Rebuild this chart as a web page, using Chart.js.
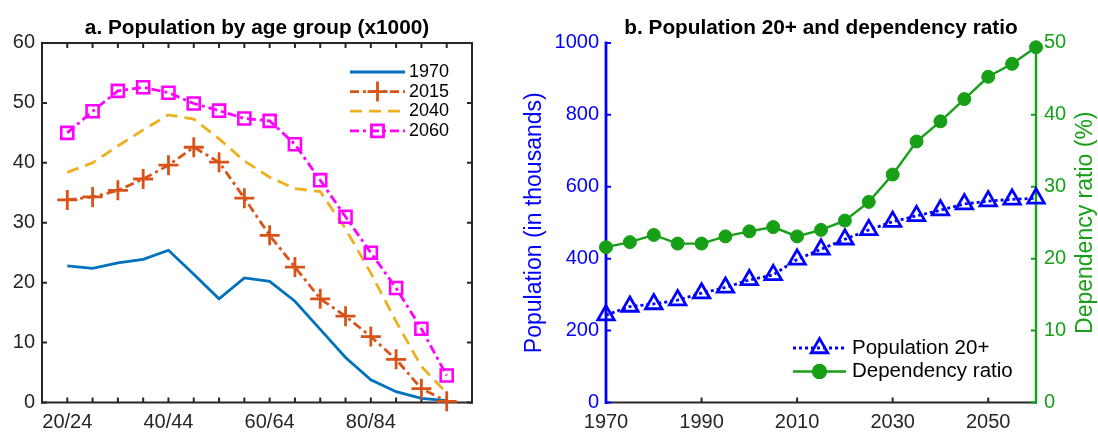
<!DOCTYPE html>
<html lang="en">
<head>
<meta charset="UTF-8">
<title>Population by age group and dependency ratio</title>
<script src="https://cdn.jsdelivr.net/npm/chart.js@4.4.1/dist/chart.umd.min.js"></script>
<style>
  html, body { margin: 0; padding: 0; background: #fff; overflow: hidden; }
  #wrap { position: relative; width: 1098px; height: 432px; overflow: hidden; }
  .panel { position: absolute; top: 0; }
  #left { left: 0; }
  #right { left: 506px; }
</style>
</head>
<body>
<div id="wrap">
  <div class="panel" id="left"><canvas id="ageChart" width="514" height="432"></canvas></div>
  <div class="panel" id="right"><canvas id="ratioChart" width="630" height="432"></canvas></div>
</div>
<script>
// panel a: population by age group (x1000)
const ageGroups = ['20/24', '25/29', '30/34', '35/39', '40/44', '45/49', '50/54', '55/59',
                   '60/64', '65/69', '70/74', '75/79', '80/84', '85/89', '90/94', '95/99'];
const pop1970 = [22.8, 22.4, 23.3, 23.9, 25.4, 21.4, 17.3, 20.8, 20.2, 16.9, 12.2, 7.5, 3.8, 1.8, 0.7, 0.3];
const pop2015 = [33.8, 34.3, 35.4, 37.3, 39.6, 42.6, 40.1, 34.1, 27.9, 22.6, 17.3, 14.4, 11.0, 7.2, 2.3, 0.2];
const pop2040 = [38.4, 40.0, 42.8, 45.5, 48.0, 47.3, 44.0, 40.3, 37.6, 35.7, 35.2, 29.0, 21.6, 13.5, 6.0, 1.6];
const pop2060 = [45.0, 48.6, 52.0, 52.6, 51.7, 49.9, 48.7, 47.4, 47.0, 43.1, 37.1, 31.0, 25.0, 19.1, 12.3, 4.5];
const ageTicks = [0, 10, 20, 30, 40, 50, 60];

// panel b: population 20+ and dependency ratio
const years = [1970, 1975, 1980, 1985, 1990, 1995, 2000, 2005, 2010, 2015,
               2020, 2025, 2030, 2035, 2040, 2045, 2050, 2055, 2060];
const pop20plus = [243, 267, 274, 285, 304, 320, 341, 355, 398, 426,
                   454, 480, 503, 519, 535, 552, 560, 565, 568];
const depRatio = [21.6, 22.3, 23.3, 22.1, 22.1, 23.1, 23.8, 24.4, 23.1, 24.0,
                  25.3, 27.9, 31.7, 36.3, 39.1, 42.2, 45.3, 47.1, 49.4];
const yearTicks = [1970, 1990, 2010, 2030, 2050];
const popTicks = [0, 200, 400, 600, 800, 1000];
const ratioTicks = [0, 10, 20, 30, 40, 50];

const ink = '#262626';
const green = '#17A017';
const blue = '#0000FF';

Chart.defaults.font.family = "'Liberation Sans', Arial, Helvetica, sans-serif";
Chart.defaults.color = ink;

// box lines with inward tick marks (matlab style), drawn under the data
const frame = {
  id: 'frame',
  beforeDatasetsDraw(chart, args, opts) {
    const { ctx, chartArea: a } = chart;
    const len = opts.tickLength;
    ctx.save();
    ctx.setLineDash([]);
    opts.sides.forEach(side => {
      const scale = chart.scales[side.scale];
      const horiz = side.edge === 'bottom' || side.edge === 'top';
      ctx.strokeStyle = side.color;
      ctx.lineWidth = side.width;
      ctx.lineCap = 'square';
      ctx.beginPath();
      if (horiz) {
        const y = side.edge === 'bottom' ? a.bottom : a.top;
        ctx.moveTo(a.left, y); ctx.lineTo(a.right, y);
      } else {
        const x = side.edge === 'left' ? a.left : a.right;
        ctx.moveTo(x, a.top); ctx.lineTo(x, a.bottom);
      }
      ctx.stroke();
      ctx.lineCap = 'butt';
      ctx.lineWidth = opts.tickWidth;
      ctx.beginPath();
      scale.ticks.forEach(t => {
        const p = scale.getPixelForValue(t.value);
        if (horiz) {
          const y = side.edge === 'bottom' ? a.bottom : a.top;
          const dir = side.edge === 'bottom' ? -1 : 1;
          ctx.moveTo(p, y); ctx.lineTo(p, y + dir * len);
        } else {
          const x = side.edge === 'left' ? a.left : a.right;
          const dir = side.edge === 'left' ? 1 : -1;
          ctx.moveTo(x, p); ctx.lineTo(x + dir * len, p);
        }
      });
      ctx.stroke();
    });
    ctx.restore();
  }
};

// legend with line sample + marker, like the matlab one
const lineLegend = {
  id: 'lineLegend',
  afterDatasetsDraw(chart, args, opts) {
    const { ctx } = chart;
    ctx.save();
    chart.data.datasets.forEach((ds, i) => {
      const y = opts.y + i * opts.rowGap;
      ctx.strokeStyle = ds.borderColor;
      ctx.lineWidth = ds.borderWidth;
      ctx.setLineDash(ds.borderDash || []);
      ctx.beginPath();
      ctx.moveTo(opts.x, y);
      ctx.lineTo(opts.x + opts.lineLength, y);
      ctx.stroke();
      if (ds.pointRadius > 0) {
        ctx.setLineDash([]);
        ctx.strokeStyle = ds.pointBorderColor;
        ctx.fillStyle = ds.pointBackgroundColor;
        Chart.helpers.drawPoint(ctx, {
          pointStyle: ds.pointStyle, radius: ds.pointRadius,
          rotation: 0, borderWidth: ds.pointBorderWidth
        }, opts.x + opts.lineLength / 2, y);
      }
      ctx.fillStyle = '#000';
      ctx.font = opts.fontSize + 'px ' + Chart.defaults.font.family;
      ctx.textBaseline = 'middle';
      ctx.textAlign = 'left';
      ctx.fillText(ds.label, opts.x + opts.lineLength + opts.textGap, y);
    });
    ctx.restore();
  }
};

// right axis title reads bottom to top like the left one
const sideTitle = {
  id: 'sideTitle',
  afterDraw(chart, args, opts) {
    if (!opts.text) return;
    const { ctx, chartArea: a } = chart;
    ctx.save();
    ctx.translate(a.right + opts.offset, (a.top + a.bottom) / 2);
    ctx.rotate(-Math.PI / 2);
    ctx.fillStyle = opts.color;
    ctx.font = opts.fontSize + 'px ' + Chart.defaults.font.family;
    ctx.textAlign = 'center';
    ctx.textBaseline = 'middle';
    ctx.fillText(opts.text, 0, 0);
    ctx.restore();
  }
};

const titleOpts = text => ({
  display: true, text: text, color: '#000',
  font: { size: 20.8, weight: 'bold' },
  padding: { top: 16, bottom: 2 }
});

const toXY = (xs, ys) => ys.map((v, i) => ({ x: xs[i], y: v }));
const idx = ageGroups.map((g, i) => i);

new Chart(document.getElementById('ageChart'), {
  type: 'line',
  data: {
    datasets: [
      { label: '1970', data: toXY(idx, pop1970), borderColor: '#0072BD', borderWidth: 2.8,
        pointRadius: 0, order: 4 },
      { label: '2015', data: toXY(idx, pop2015), borderColor: '#D95319', borderWidth: 2.8,
        borderDash: [9, 4, 3, 4], pointStyle: 'cross', pointRadius: 10,
        pointBorderColor: '#D95319', pointBackgroundColor: 'rgba(0,0,0,0)', pointBorderWidth: 2.8, order: 3 },
      { label: '2040', data: toXY(idx, pop2040), borderColor: '#EDB120', borderWidth: 2.8,
        borderDash: [12, 7], pointRadius: 0, order: 2 },
      { label: '2060', data: toXY(idx, pop2060), borderColor: '#FF00FF', borderWidth: 2.8,
        borderDash: [9, 4, 3, 4], pointStyle: 'rect', pointRadius: 8.5,
        pointBorderColor: '#FF00FF', pointBackgroundColor: 'rgba(0,0,0,0)', pointBorderWidth: 2.6, order: 1 }
    ]
  },
  options: {
    responsive: false,
    animation: false,
    datasets: { line: { clip: false, tension: 0, fill: false } },
    scales: {
      x: {
        type: 'linear', min: -1, max: ageGroups.length,
        afterBuildTicks: s => { s.ticks = idx.map(i => ({ value: i })); },
        afterFit: s => { s.height = 29.5; },
        grid: { display: false, drawTicks: false },
        border: { display: false },
        ticks: { autoSkip: false, maxRotation: 0, padding: 8, color: ink, font: { size: 20 },
                 callback: v => (v % 4 === 0 ? ageGroups[v] : '') }
      },
      y: {
        min: 0, max: 60,
        afterBuildTicks: s => { s.ticks = ageTicks.map(v => ({ value: v })); },
        afterFit: s => { s.width = 42; },
        grid: { display: false, drawTicks: false },
        border: { display: false },
        ticks: { padding: 7, color: ink, font: { size: 20 } }
      },
      // mirror axis on the right: tick marks only
      yMirror: {
        position: 'right', min: 0, max: 60,
        afterBuildTicks: s => { s.ticks = ageTicks.map(v => ({ value: v })); },
        afterFit: s => { s.width = 42; },
        grid: { display: false, drawTicks: false },
        border: { display: false },
        ticks: { display: false }
      }
    },
    plugins: {
      legend: { display: false },
      tooltip: { enabled: false },
      title: titleOpts('a. Population by age group (x1000)'),
      frame: {
        tickLength: 5, tickWidth: 2,
        sides: [
          { scale: 'x', edge: 'bottom', color: ink, width: 2 },
          { scale: 'x', edge: 'top', color: ink, width: 2 },
          { scale: 'y', edge: 'left', color: ink, width: 2 },
          { scale: 'yMirror', edge: 'right', color: ink, width: 2 }
        ]
      },
      lineLegend: { x: 350, y: 72, rowGap: 19.6, lineLength: 55, textGap: 4, fontSize: 18 }
    }
  },
  plugins: [frame, lineLegend]
});

new Chart(document.getElementById('ratioChart'), {
  type: 'line',
  data: {
    datasets: [
      { label: 'Population 20+', data: toXY(years, pop20plus), yAxisID: 'y',
        borderColor: blue, borderWidth: 2.8, borderDash: [3, 3],
        pointStyle: 'triangle', pointRadius: 9.5, pointBorderColor: blue,
        pointBackgroundColor: 'rgba(0,0,0,0)', pointBorderWidth: 2.8, order: 2 },
      { label: 'Dependency ratio', data: toXY(years, depRatio), yAxisID: 'y2',
        borderColor: green, borderWidth: 2.4,
        pointStyle: 'circle', pointRadius: 6.5, pointBorderColor: green,
        pointBackgroundColor: green, pointBorderWidth: 1, order: 1 }
    ]
  },
  options: {
    responsive: false,
    animation: false,
    datasets: { line: { clip: false, tension: 0, fill: false } },
    scales: {
      x: {
        type: 'linear', min: years[0], max: years[years.length - 1],
        afterBuildTicks: s => { s.ticks = yearTicks.map(v => ({ value: v })); },
        afterFit: s => { s.height = 29.5; },
        grid: { display: false, drawTicks: false },
        border: { display: false },
        ticks: { autoSkip: false, maxRotation: 0, padding: 8, color: ink, font: { size: 20 },
                 callback: v => String(v) }
      },
      y: {
        position: 'left', min: 0, max: 1000,
        afterBuildTicks: s => { s.ticks = popTicks.map(v => ({ value: v })); },
        afterFit: s => { s.width = 100; },
        grid: { display: false, drawTicks: false },
        border: { display: false },
        ticks: { padding: 7, color: blue, font: { size: 20 }, callback: v => String(v) },
        title: { display: true, text: 'Population (in thousands)', color: blue,
                 font: { size: 23 }, padding: { top: 15, bottom: 0 } }
      },
      y2: {
        position: 'right', min: 0, max: 50,
        afterBuildTicks: s => { s.ticks = ratioTicks.map(v => ({ value: v })); },
        afterFit: s => { s.width = 100; },
        grid: { display: false, drawTicks: false },
        border: { display: false },
        ticks: { padding: 8, color: green, font: { size: 20 }, callback: v => String(v) }
      }
    },
    plugins: {
      legend: { display: false },
      tooltip: { enabled: false },
      title: titleOpts('b. Population 20+ and dependency ratio'),
      frame: {
        tickLength: 5, tickWidth: 2,
        sides: [
          { scale: 'x', edge: 'bottom', color: ink, width: 2 },
          { scale: 'y', edge: 'left', color: blue, width: 2.8 },
          { scale: 'y2', edge: 'right', color: green, width: 2.4 }
        ]
      },
      lineLegend: { x: 287, y: 348, rowGap: 23.5, lineLength: 53, textGap: 6, fontSize: 20.5 },
      sideTitle: { text: 'Dependency ratio (%)', color: green, fontSize: 23, offset: 50 }
    }
  },
  plugins: [frame, lineLegend, sideTitle]
});
</script>
</body>
</html>
